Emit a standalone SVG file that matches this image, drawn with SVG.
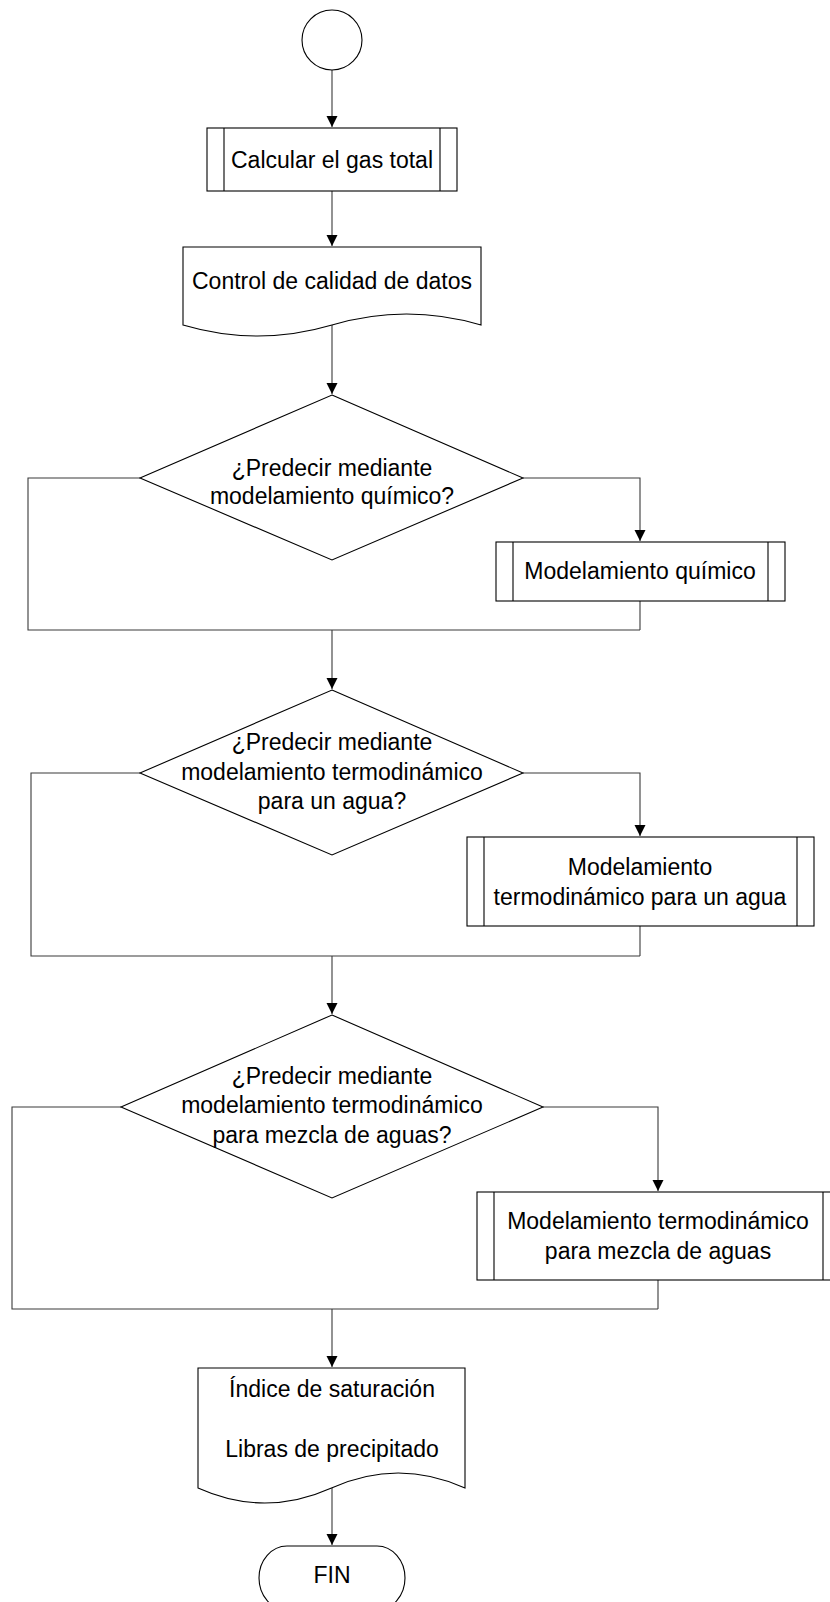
<svg xmlns="http://www.w3.org/2000/svg" width="830" height="1602" viewBox="0 0 830 1602">
<style>
.s{fill:#fff;stroke:#000;stroke-width:1.1}
.in{fill:none;stroke:#000;stroke-width:1.1}
.c{fill:none;stroke:#3a3a3a;stroke-width:1.1}
.t{font-family:"Liberation Sans",Arial,sans-serif;font-size:23px;fill:#000;text-anchor:middle}
</style>
<defs>
<marker id="ah" markerUnits="userSpaceOnUse" markerWidth="12" markerHeight="12" refX="11" refY="5.5" orient="auto">
<path d="M0,0 L11,5.5 L0,11 z" fill="#000"/>
</marker>
</defs>
<rect width="830" height="1602" fill="#fff"/>
<g id="connectors">
<path class="c" d="M332,70 V127" marker-end="url(#ah)"/>
<path class="c" d="M332,191 V246" marker-end="url(#ah)"/>
<path class="c" d="M332,325 V394" marker-end="url(#ah)"/>
<path class="c" d="M140,478 H28 V630 H640"/>
<path class="c" d="M523,478 H640 V541" marker-end="url(#ah)"/>
<path class="c" d="M640,601 V630"/>
<path class="c" d="M332,630 V689" marker-end="url(#ah)"/>
<path class="c" d="M140,773 H31 V956 H640"/>
<path class="c" d="M523,773 H640 V836" marker-end="url(#ah)"/>
<path class="c" d="M640,926 V956"/>
<path class="c" d="M332,956 V1014" marker-end="url(#ah)"/>
<path class="c" d="M121,1107 H12 V1309 H658"/>
<path class="c" d="M543,1107 H658 V1191" marker-end="url(#ah)"/>
<path class="c" d="M658,1280 V1309"/>
<path class="c" d="M332,1309 V1367" marker-end="url(#ah)"/>
<path class="c" d="M332,1488 V1545" marker-end="url(#ah)"/>
</g>
<g id="inicio">
<circle class="s" cx="332" cy="40" r="30"/>
</g>
<g id="calcular-gas">
<rect class="s" x="207" y="128" width="250" height="63"/>
<path class="in" d="M224,128 V191 M440,128 V191"/>
<text class="t" x="332" y="168">Calcular el gas total</text>
</g>
<g id="control-calidad">
<path class="s" d="M183,247 H481 V325 Q406.5,303 332,325 T183,325 Z"/>
<text class="t" x="332" y="289">Control de calidad de datos</text>
</g>
<g id="decision-quimico">
<path class="s" d="M332,395 L523,478 L332,560 L140,478 Z"/>
<text class="t" x="332" y="476">¿Predecir mediante</text>
<text class="t" x="332" y="504">modelamiento químico?</text>
</g>
<g id="modelamiento-quimico">
<rect class="s" x="496" y="542" width="289" height="59"/>
<path class="in" d="M513,542 V601 M768,542 V601"/>
<text class="t" x="640" y="579">Modelamiento químico</text>
</g>
<g id="decision-un-agua">
<path class="s" d="M332,690 L523,773 L332,855 L140,773 Z"/>
<text class="t" x="332" y="750">¿Predecir mediante</text>
<text class="t" x="332" y="780">modelamiento termodinámico</text>
<text class="t" x="332" y="809">para un agua?</text>
</g>
<g id="modelamiento-un-agua">
<rect class="s" x="467" y="837" width="347" height="89"/>
<path class="in" d="M484,837 V926 M797,837 V926"/>
<text class="t" x="640" y="875">Modelamiento</text>
<text class="t" x="640" y="905">termodinámico para un agua</text>
</g>
<g id="decision-mezcla">
<path class="s" d="M332,1015 L543,1107 L332,1198 L121,1107 Z"/>
<text class="t" x="332" y="1084">¿Predecir mediante</text>
<text class="t" x="332" y="1113">modelamiento termodinámico</text>
<text class="t" x="332" y="1143">para mezcla de aguas?</text>
</g>
<g id="modelamiento-mezcla">
<rect class="s" x="477" y="1192" width="363" height="88"/>
<path class="in" d="M494,1192 V1280 M823,1192 V1280"/>
<text class="t" x="658" y="1229">Modelamiento termodinámico</text>
<text class="t" x="658" y="1259">para mezcla de aguas</text>
</g>
<g id="resultados">
<path class="s" d="M198,1368 H465 V1488 Q398.25,1458 331.5,1488 T198,1488 Z"/>
<text class="t" x="332" y="1397">Índice de saturación</text>
<text class="t" x="332" y="1457">Libras de precipitado</text>
</g>
<g id="fin">
<rect class="s" x="259" y="1546" width="146" height="64" rx="28" ry="32"/>
<text class="t" x="332" y="1583">FIN</text>
</g>
</svg>
